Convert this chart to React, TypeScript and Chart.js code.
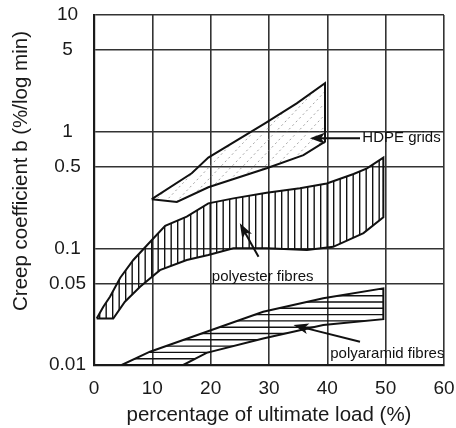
import { useEffect, useRef } from 'react';
import { Chart, registerables } from 'chart.js';

Chart.register(...registerables);

const FONT = '"Liberation Sans", Arial, Helvetica, sans-serif';

// Axis ticks
const xTickValues = [0, 10, 20, 30, 40, 50, 60];
const yTickValues = [0.01, 0.05, 0.1, 0.5, 1, 5, 10];

// Axis titles
const xTitle = 'percentage of ultimate load (%)';
const yTitle = 'Creep coefficient b (%/log min)';

// HDPE grids band
const hdpeUpperX = [9.9, 16.75, 19.6, 29.3, 34.75, 39.6];
const hdpeUpperY = [0.264, 0.44, 0.6, 1.18, 1.75, 2.6];
const hdpeLowerX = [9.9, 14.2, 19.6, 29.6, 35.9, 39.6];
const hdpeLowerY = [0.264, 0.25, 0.334, 0.486, 0.63, 0.82];

// Polyester fibres band
const polyesterUpperX = [0.46, 1.6, 2.74, 4.5, 6.74, 10.2, 12.2, 15.9, 19.6, 23.9, 29.6, 35.3, 39.9, 44.5, 46.8, 49.6];
const polyesterUpperY = [0.025, 0.0316, 0.0385, 0.056, 0.0795, 0.122, 0.156, 0.187, 0.243, 0.268, 0.3, 0.327, 0.36, 0.434, 0.485, 0.6];
const polyesterLowerX = [0.46, 3.3, 5.3, 7.9, 11.3, 15.9, 19.6, 23.9, 29.6, 36.5, 41.0, 46.2, 49.6];
const polyesterLowerY = [0.025, 0.025, 0.0349, 0.0469, 0.065, 0.0795, 0.0877, 0.1, 0.1, 0.0966, 0.103, 0.135, 0.185];

// Polyaramid fibres band
const polyaramidUpperX = [4.75, 9.6, 19.3, 29.0, 39.3, 49.6];
const polyaramidUpperY = [0.01, 0.013, 0.0193, 0.0286, 0.0373, 0.0454];
const polyaramidLowerX = [4.75, 15.3, 19.3, 29.0, 39.3, 49.6];
const polyaramidLowerY = [0.01, 0.01, 0.0127, 0.0169, 0.022, 0.0247];

// Annotations (data coordinates)
const annotationLabels = ['HDPE grids', 'polyester fibres', 'polyaramid fibres'];
const labelAnchorX = [46.0, 20.2, 40.5];
const labelAnchorY = [0.88, 0.0568, 0.0124];
const arrowTailX = [45.6, 28.2, 45.6];
const arrowTailY = [0.88, 0.0847, 0.0158];
const arrowTipX = [37.0, 25.0, 34.2];
const arrowTipY = [0.88, 0.164, 0.022];

function polygon(ux: number[], uy: number[], lx: number[], ly: number[]) {
  const pts = ux.map((x, i) => ({ x, y: uy[i] }));
  for (let i = lx.length - 1; i >= 0; i--) pts.push({ x: lx[i], y: ly[i] });
  return pts;
}

const hatchPlugin = {
  id: 'hatch',
  beforeDatasetsDraw(chart: any) {
    const { ctx } = chart;
    chart.data.datasets.forEach((ds: any, i: number) => {
      const pts = chart.getDatasetMeta(i).data as any[];
      if (!ds.hatch || pts.length < 3) return;
      ctx.save();
      ctx.beginPath();
      pts.forEach((p, j) => (j ? ctx.lineTo(p.x, p.y) : ctx.moveTo(p.x, p.y)));
      ctx.closePath();
      ctx.clip();
      const xs = pts.map((p) => p.x);
      const ys = pts.map((p) => p.y);
      const x0 = Math.min(...xs);
      const x1 = Math.max(...xs);
      const y0 = Math.min(...ys);
      const y1 = Math.max(...ys);
      ctx.beginPath();
      if (ds.hatch === 'vertical') {
        for (let x = x0 + 3; x < x1; x += 6.5) {
          ctx.moveTo(x, y0);
          ctx.lineTo(x, y1);
        }
        ctx.strokeStyle = '#111';
        ctx.lineWidth = 1.4;
      } else if (ds.hatch === 'horizontal') {
        for (let y = y1 - 6.3; y > y0; y -= 6.3) {
          ctx.moveTo(x0, y);
          ctx.lineTo(x1, y);
        }
        ctx.strokeStyle = '#111';
        ctx.lineWidth = 1.4;
      } else {
        const h = y1 - y0;
        for (let k = x0 - h; k < x1; k += 11) {
          ctx.moveTo(k, y1);
          ctx.lineTo(k + h * 0.95, y0);
        }
        ctx.strokeStyle = '#999';
        ctx.lineWidth = 0.9;
        ctx.setLineDash([2, 3]);
      }
      ctx.stroke();
      ctx.restore();
    });
  },
};

const annotationPlugin = {
  id: 'annotations',
  afterDatasetsDraw(chart: any) {
    const { ctx, scales } = chart;
    const xs = scales.x;
    const ys = scales.y;
    ctx.save();
    ctx.fillStyle = '#111';
    ctx.strokeStyle = '#111';
    ctx.font = `15px ${FONT}`;
    ctx.textBaseline = 'middle';
    ctx.textAlign = 'left';
    annotationLabels.forEach((t, i) => {
      ctx.fillText(t, xs.getPixelForValue(labelAnchorX[i]), ys.getPixelForValue(labelAnchorY[i]));
      const tx = xs.getPixelForValue(arrowTailX[i]);
      const ty = ys.getPixelForValue(arrowTailY[i]);
      const hx = xs.getPixelForValue(arrowTipX[i]);
      const hy = ys.getPixelForValue(arrowTipY[i]);
      const dx = hx - tx;
      const dy = hy - ty;
      const len = Math.hypot(dx, dy);
      const ux = dx / len;
      const uy = dy / len;
      const px = -uy;
      const py = ux;
      const headLen = 15;
      const headW = 5.5;
      ctx.lineWidth = 2;
      ctx.beginPath();
      ctx.moveTo(tx, ty);
      ctx.lineTo(hx - ux * headLen * 0.7, hy - uy * headLen * 0.7);
      ctx.stroke();
      ctx.beginPath();
      ctx.moveTo(hx, hy);
      ctx.lineTo(hx - ux * headLen + px * headW, hy - uy * headLen + py * headW);
      ctx.lineTo(hx - ux * headLen * 0.75, hy - uy * headLen * 0.75);
      ctx.lineTo(hx - ux * headLen - px * headW, hy - uy * headLen - py * headW);
      ctx.closePath();
      ctx.fill();
    });
    ctx.restore();
  },
};

const yTitlePlugin = {
  id: 'yTitle',
  afterDraw(chart: any) {
    const { ctx, chartArea } = chart;
    ctx.save();
    ctx.translate(21, (chartArea.top + chartArea.bottom) / 2 - 19);
    ctx.rotate(-Math.PI / 2);
    ctx.font = `20.5px ${FONT}`;
    ctx.fillStyle = '#1a1a1a';
    ctx.textAlign = 'center';
    ctx.textBaseline = 'middle';
    ctx.fillText(yTitle, 0, 0);
    ctx.restore();
  },
};

const bandStyle = {
  showLine: true,
  borderColor: '#111',
  borderWidth: 2,
  pointRadius: 0,
  pointHoverRadius: 0,
  fill: false,
  tension: 0,
};

export default function App() {
  const ref = useRef<HTMLCanvasElement>(null);
  useEffect(() => {
    Chart.defaults.font.family = FONT;
    const chart = new Chart(ref.current as HTMLCanvasElement, {
      type: 'scatter',
      data: {
        datasets: [
          {
            label: 'HDPE grids',
            data: polygon(hdpeUpperX, hdpeUpperY, hdpeLowerX, hdpeLowerY),
            hatch: 'diagonal',
            ...bandStyle,
          } as any,
          {
            label: 'polyester fibres',
            data: polygon(polyesterUpperX, polyesterUpperY, polyesterLowerX, polyesterLowerY),
            hatch: 'vertical',
            ...bandStyle,
          } as any,
          {
            label: 'polyaramid fibres',
            data: polygon(polyaramidUpperX, polyaramidUpperY, polyaramidLowerX, polyaramidLowerY),
            hatch: 'horizontal',
            ...bandStyle,
          } as any,
        ],
      },
      options: {
        animation: false,
        responsive: true,
        maintainAspectRatio: false,
        layout: { padding: { left: 0, right: 12, top: 15, bottom: 0 } },
        plugins: {
          legend: { display: false },
          tooltip: { enabled: false },
        },
        events: [],
        scales: {
          x: {
            type: 'linear',
            min: 0,
            max: 60,
            afterBuildTicks: (scale: any) => {
              scale.ticks = xTickValues.map((v) => ({ value: v }));
            },
            afterFit: (scale: any) => {
              scale.height = 63;
              scale.paddingLeft = 0;
              scale.paddingRight = 0;
            },
            ticks: {
              autoSkip: false,
              padding: 12,
              color: '#1a1a1a',
              font: { size: 19 },
              callback: (v: any) => String(v),
            },
            grid: { color: '#333', lineWidth: 1.6, drawTicks: false },
            border: { color: '#1a1a1a', width: 2.2 },
            title: {
              display: true,
              text: xTitle,
              color: '#1a1a1a',
              font: { size: 20.5 },
              padding: { top: 0, bottom: 0 },
            },
          },
          y: {
            type: 'logarithmic',
            min: 0.01,
            max: 10,
            afterBuildTicks: (scale: any) => {
              scale.ticks = yTickValues.map((v) => ({ value: v }));
            },
            afterFit: (scale: any) => {
              scale.width = 94;
              scale.paddingTop = 0;
              scale.paddingBottom = 0;
            },
            ticks: {
              autoSkip: false,
              padding: 8,
              crossAlign: 'center',
              color: '#1a1a1a',
              font: { size: 19 },
              callback: (v: any) => String(v),
            },
            grid: { color: '#333', lineWidth: 1.6, drawTicks: false },
            border: { color: '#1a1a1a', width: 2.2 },
          },
        },
      },
      plugins: [hatchPlugin, annotationPlugin, yTitlePlugin],
    } as any);
    return () => chart.destroy();
  }, []);
  return (
    <div style={{ position: 'absolute', left: 0, top: 0, width: 456, height: 428, background: '#fff' }}>
      <canvas ref={ref} />
    </div>
  );
}
